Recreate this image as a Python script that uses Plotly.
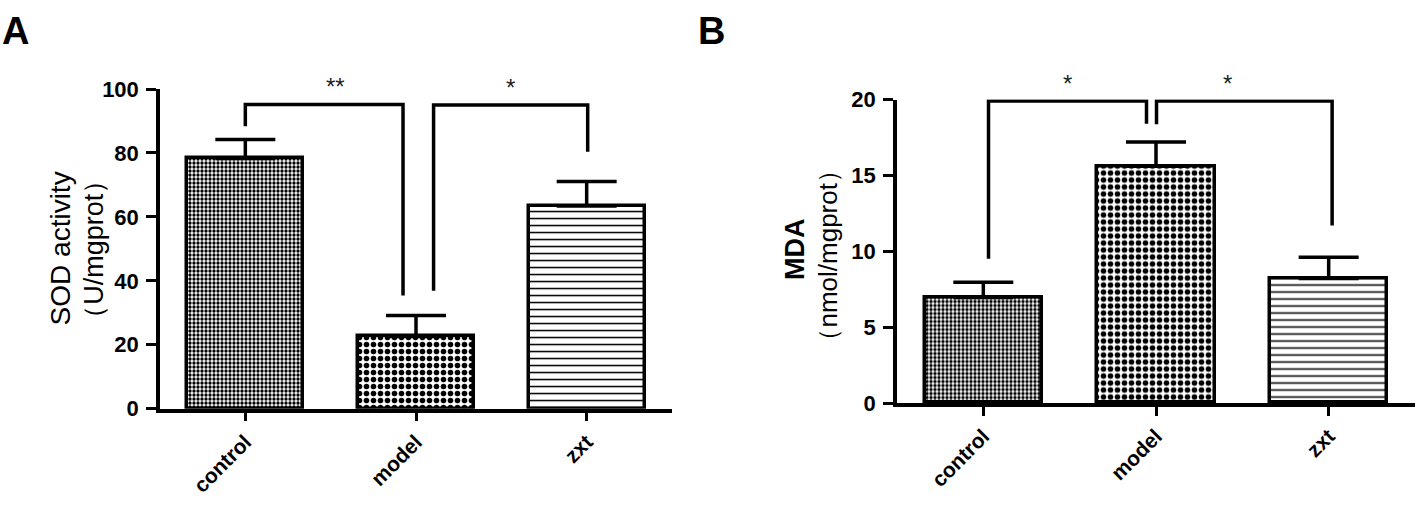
import plotly.graph_objects as go

# ---------------- data ----------------
categories = ["control", "model", "zxt"]
cat_pos = [0, 1, 2]

sod_mean = [78.3, 22.6, 63.4]
sod_err = [5.9, 6.6, 7.7]
sod_ticks = [0, 20, 40, 60, 80, 100]

mda_mean = [6.96, 15.6, 8.2]
mda_err = [1.0, 1.6, 1.4]
mda_ticks = [0, 5, 10, 15, 20]

# significance brackets (x of left/right legs, top level, leg bottoms, label, label x)
sod_br_x = [[0.0, 0.924], [1.103, 2.006]]
sod_br_top = [95.2, 95.0]
sod_br_legs = [[88.4, 35.4], [36.9, 80.4]]
sod_br_label = ["**", "*"]
sod_br_label_x = [0.53, 1.553]

mda_br_x = [[0.03, 0.945], [1.003, 2.02]]
mda_br_top = [19.9, 19.9]
mda_br_legs = [[9.5, 18.4], [18.37, 11.7]]
mda_br_label = ["*", "*"]
mda_br_label_x = [0.487, 1.414]

# ---------------- styles ----------------
FONT = "Arial, Liberation Sans, sans-serif"
pat_shapes = [".", ".", "-"]
pat_sizes = [4, 7, 7]
pat_solid = [0.55, 0.5, 0.22]

fig = go.Figure()


def add_panel(mean, err, xa, ya, br_x, br_top, br_legs, br_label, br_label_x):
    for i in range(len(categories)):
        fig.add_trace(go.Bar(
            x=[cat_pos[i]], y=[mean[i]], width=0.68,
            xaxis=xa, yaxis=ya, showlegend=False,
            marker=dict(color="white",
                        line=dict(color="black", width=3.5),
                        pattern=dict(shape=pat_shapes[i], size=pat_sizes[i],
                                     solidity=pat_solid[i], fgcolor="black",
                                     bgcolor="white", fillmode="replace")),
            error_y=dict(type="data", array=[err[i]], arrayminus=[0],
                         symmetric=False, thickness=3.5, width=30, color="black"),
        ))
    for j in range(len(br_x)):
        xl, xr = br_x[j]
        lb, rb = br_legs[j]
        fig.add_trace(go.Scatter(
            x=[xl, xl, xr, xr], y=[lb, br_top[j], br_top[j], rb],
            mode="lines", line=dict(color="black", width=3.5),
            xaxis=xa, yaxis=ya, showlegend=False, hoverinfo="skip", cliponaxis=False,
        ))
        fig.add_annotation(
            x=br_label_x[j], y=br_top[j], xref=xa, yref=ya,
            text=br_label[j], showarrow=False, yanchor="bottom", yshift=2,
            font=dict(family=FONT, size=24, color="#222"),
        )


add_panel(sod_mean, sod_err, "x", "y", sod_br_x, sod_br_top, sod_br_legs,
          sod_br_label, sod_br_label_x)
add_panel(mda_mean, mda_err, "x2", "y2", mda_br_x, mda_br_top, mda_br_legs,
          mda_br_label, mda_br_label_x)

W, H = 1418, 514

xcommon = dict(range=[-0.5, 2.5], showline=True, linewidth=3.5, linecolor="black",
               ticks="outside", ticklen=9, tickwidth=3, tickcolor="black",
               tickvals=cat_pos, ticktext=categories, tickangle=-45,
               tickfont=dict(family=FONT, size=21, color="black", weight="bold"),
               showgrid=False, zeroline=False, fixedrange=True)
ycommon = dict(showline=True, linewidth=3.5, linecolor="black",
               ticks="outside", ticklen=10, tickwidth=3, tickcolor="black",
               ticklabelstandoff=3,
               tickfont=dict(family=FONT, size=22, color="black", weight="bold"),
               showgrid=False, zeroline=False, fixedrange=True)

fig.update_layout(
    width=W, height=H,
    margin=dict(l=0, r=0, t=0, b=0),
    paper_bgcolor="white", plot_bgcolor="white",
    bargap=0,
    xaxis=dict(domain=[160 / W, 672 / W], anchor="y", **xcommon),
    yaxis=dict(domain=[(H - 417) / H, (H - 81) / H], anchor="x", range=[0, 100],
               tickvals=sod_ticks, **ycommon),
    xaxis2=dict(domain=[897 / W, 1415 / W], anchor="y2", **xcommon),
    yaxis2=dict(domain=[(H - 411) / H, (H - 92) / H], anchor="x2", range=[0, 20],
                tickvals=mda_ticks, **ycommon),
)

# axis titles
fig.add_annotation(x=43 / W, y=(H - 249) / H, xref="paper", yref="paper",
                   text="SOD activity", textangle=-90, showarrow=False,
                   font=dict(family=FONT, size=28, color="black"))
fig.add_annotation(x=77 / W, y=(H - 250) / H, xref="paper", yref="paper",
                   text="（U/mgprot）", textangle=-90, showarrow=False,
                   font=dict(family=FONT, size=27, color="black"))
fig.add_annotation(x=795 / W, y=(H - 249) / H, xref="paper", yref="paper",
                   text="MDA", textangle=-90, showarrow=False,
                   font=dict(family=FONT, size=27, color="black", weight="bold"))
fig.add_annotation(x=828 / W, y=(H - 256) / H, xref="paper", yref="paper",
                   text="（nmol/mgprot）", textangle=-90, showarrow=False,
                   font=dict(family=FONT, size=26, color="black"))

# panel letters
fig.add_annotation(x=0, y=1, xref="paper", yref="paper", xanchor="left", yanchor="top",
                   text="A", showarrow=False, yshift=4,
                   font=dict(family=FONT, size=38, color="black", weight="bold"))
fig.add_annotation(x=696 / W, y=1, xref="paper", yref="paper", xanchor="left",
                   yanchor="top", text="B", showarrow=False, yshift=4,
                   font=dict(family=FONT, size=38, color="black", weight="bold"))

fig.write_html("out.html", config={"displayModeBar": False},
               post_script="document.body.style.margin='0';"
                           "document.documentElement.style.overflow='hidden';")
